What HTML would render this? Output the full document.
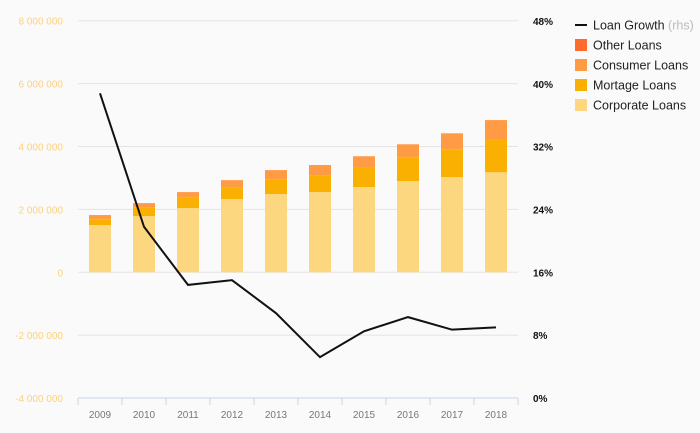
<!DOCTYPE html>
<html><head><meta charset="utf-8"><style>
body{margin:0;background:#fafafa;font-family:"Liberation Sans",sans-serif;}
svg{display:block}
</style></head><body>
<svg id="c" width="700" height="433"></svg>
<script>
const years=["2009","2010","2011","2012","2013","2014","2015","2016","2017","2018"];
const corporate=[1.50,1.79,2.04,2.33,2.49,2.55,2.71,2.90,3.03,3.18];
const mortgage=[0.19,0.28,0.33,0.36,0.47,0.52,0.61,0.76,0.88,1.03];
const consumer=[0.13,0.13,0.18,0.24,0.29,0.34,0.37,0.41,0.51,0.63];
const other=[0,0,0,0,0,0,0,0,0,0];
const growth=[38.8,21.8,14.4,15.0,10.8,5.2,8.5,10.3,8.7,9.0];
const leftTicks=[-4,-2,0,2,4,6,8];
const leftLabels=["-4 000 000","-2 000 000","0","2 000 000","4 000 000","6 000 000","8 000 000"];
const rightTicks=[0,8,16,24,32,40,48];
const NS="http://www.w3.org/2000/svg";
const svg=document.getElementById('c');
const X0=78,X1=518,STEP=44;
const yL=v=>272.3-v*31.45;
const yR=p=>398-p*7.854;
const xC=i=>X0+STEP*(i+0.5);
function mk(t,a,p){const e=document.createElementNS(NS,t);for(const k in a)e.setAttribute(k,a[k]);(p||svg).appendChild(e);return e;}
leftTicks.forEach((v,i)=>{
 const y=yL(v);
 if(v!==-4){const g=mk('line',{x1:X0,x2:X1,y1:y,y2:y,stroke:'#e4e4e4','stroke-width':1});
 
 }
 const t=mk('text',{x:63,y:y+4,'text-anchor':'end','font-size':10,fill:'#fdd17c'});t.textContent=leftLabels[i];
 
 
});
rightTicks.forEach(p=>{
 const t=mk('text',{x:533,y:yR(p)+4,'font-size':10,fill:'#111','font-weight':'bold'});t.textContent=p+'%';
 
 
});
const ax=mk('line',{x1:X0,x2:X1,y1:398,y2:398,stroke:'#c8d6ee'});


for(let i=0;i<=years.length;i++){const tk=mk('line',{x1:X0+i*STEP,x2:X0+i*STEP,y1:398,y2:405,stroke:'#c8d6ee'});
 
 }
const cols=['#fcd77f','#f9b000','#ff9a45','#ff6b2b'];
const series=[corporate,mortgage,consumer,other];
const snames=['corporate','mortgage','consumer','other'];
years.forEach((yr,i)=>{
 let base=0;
 series.forEach((s,k)=>{
  const v=s[i];if(v<=0)return;
  const r=mk('rect',{x:xC(i)-11,width:22,y:yL(base+v),height:yL(base)-yL(base+v),fill:cols[k]});
  
  
  base+=v;
 });
 const t=mk('text',{x:xC(i),y:418,'text-anchor':'middle','font-size':10,fill:'#777'});t.textContent=yr;
 
 
});
const pl=mk('polyline',{points:growth.map((g,i)=>xC(i)+','+yR(g)).join(' '),fill:'none',stroke:'#111','stroke-width':2});


const leg=[['Loan Growth',null],['Other Loans',cols[3]],['Consumer Loans',cols[2]],['Mortage Loans',cols[1]],['Corporate Loans',cols[0]]];
leg.forEach((l,i)=>{
 const y=25+i*20;
 const g=mk('g',{});
 
 
 if(l[1])mk('rect',{x:575,y:y-6,width:12,height:12,fill:l[1]},g);
 else mk('line',{x1:575,x2:587,y1:y,y2:y,stroke:'#111','stroke-width':2},g);
 const t=mk('text',{x:593,y:y+4.5,'font-size':12.5,fill:'#222'},g);
 t.textContent=l[0];
 if(i===0){const s=mk('tspan',{fill:'#bbb'},t);s.textContent=' (rhs)';}
});
</script>
</body></html>
